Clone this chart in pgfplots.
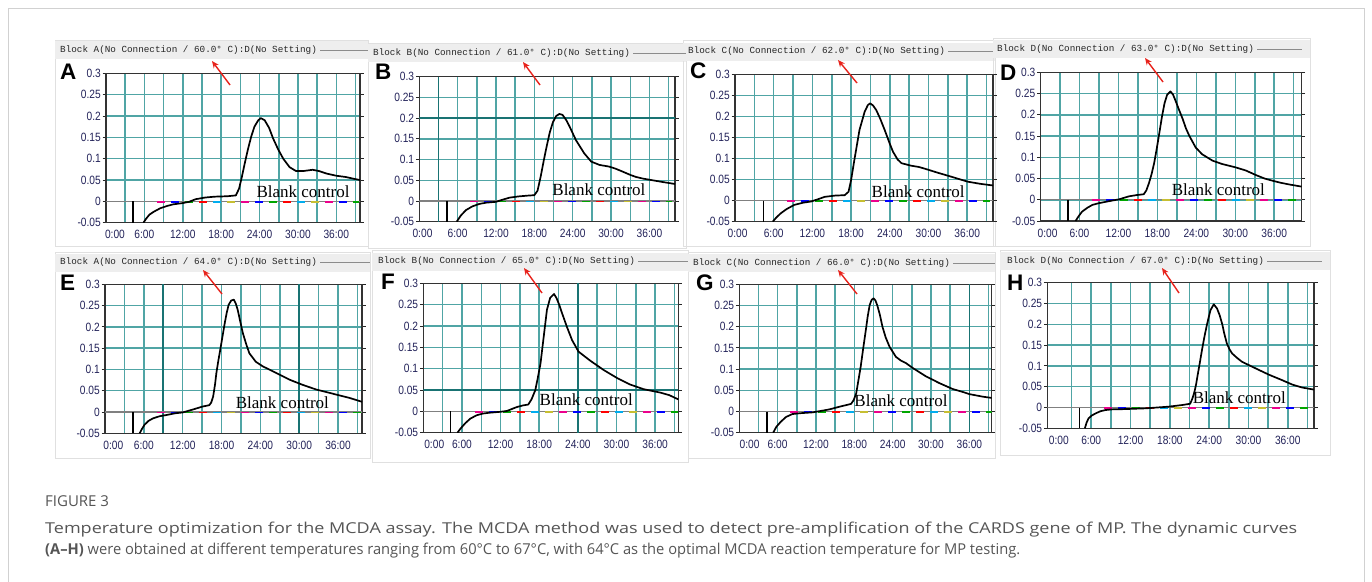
\documentclass[border=0pt]{standalone}
\usepackage{pgfplots}
\pgfplotsset{compat=1.18}
\usepackage{pgfplotstable}
\usepackage{graphicx}
\usetikzlibrary{arrows.meta}
\usepackage{fontspec}
\setmainfont{Liberation Serif}
\newfontfamily\tickfam{Liberation Sans}[FakeStretch=0.85]
\newfontfamily\monofam{Liberation Mono}
\newfontfamily\letterfam{Liberation Sans}
\newfontfamily\capfam{Open Sans}
\newcommand{\tickfont}{\tickfam\fontsize{12}{12}\selectfont}
\newcommand{\blankfont}{\rmfamily\fontsize{17}{17}\selectfont}
\newcommand{\titlefont}{\monofam\fontsize{9.3}{9.3}\selectfont}
\newcommand{\letterfont}{\letterfam\bfseries\fontsize{22.5}{22.5}\selectfont}
\definecolor{gridteal}{RGB}{80,165,165}
\definecolor{darkteal}{RGB}{25,115,115}
\definecolor{ticknavy}{RGB}{35,35,90}
\definecolor{zerogray}{RGB}{128,128,128}
\definecolor{bggray}{RGB}{238,238,238}
\definecolor{capgray}{RGB}{85,85,85}
\definecolor{arrowred}{RGB}{232,35,28}

\pgfplotsset{
  blk/.style={
    scale only axis,
    ymin=-0.05, ymax=0.3,
    xtick={#1,6,12,18,24,30,36},
    xticklabels={0:00,6:00,12:00,18:00,24:00,30:00,36:00},
    ytick={-0.05,0,0.05,0.1,0.15,0.2,0.25,0.3},
    yticklabels={-0.05,0,0.05,0.1,0.15,0.2,0.25,0.3},
    minor xtick={3,6,...,39},
    minor ytick={0,0.05,0.1,0.15,0.2,0.25},
    grid=minor,
    minor grid style={draw=gridteal, line width=1.5pt},
    minor tick length=0pt,
    xtick style={draw=none},
    ytick style={draw=black!85, line width=0.9pt},
    tick align=outside,
    major tick length=3.5pt,
    axis line style={draw=black!80, line width=1.3pt},
    ticklabel style={font=\tickfont, text=ticknavy},
    xticklabel style={inner sep=2pt, yshift=-2pt},
    yticklabel style={inner sep=1.5pt},
    clip mode=individual,
  },
  curve/.style={black, line width=1.7pt, line join=round},
}
\newcommand{\zerodashes}{%
  \addplot[magenta, line width=1.6pt, dash pattern=on 8pt off 76pt, dash phase=0pt] coordinates {(8,-0.001) (39.5,-0.001)};
  \addplot[yellow!75!black, line width=1.6pt, dash pattern=on 8pt off 76pt, dash phase=14pt] coordinates {(8,-0.001) (39.5,-0.001)};
  \addplot[cyan, line width=1.6pt, dash pattern=on 8pt off 76pt, dash phase=28pt] coordinates {(8,-0.001) (39.5,-0.001)};
  \addplot[red, line width=1.6pt, dash pattern=on 8pt off 76pt, dash phase=42pt] coordinates {(8,-0.001) (39.5,-0.001)};
  \addplot[green!65!black, line width=1.6pt, dash pattern=on 8pt off 76pt, dash phase=56pt] coordinates {(8,-0.001) (39.5,-0.001)};
  \addplot[blue, line width=1.6pt, dash pattern=on 8pt off 76pt, dash phase=70pt] coordinates {(8,-0.001) (39.5,-0.001)};
}

\pgfplotstableread{
x y
5.85 -0.05
6.3 -0.04
6.8 -0.031
7.5 -0.024
8.5 -0.016
9.5 -0.011
10.5 -0.007
12 -0.004
13 -0.001
14 0.005
15.5 0.009
17 0.011
19 0.012
20.3 0.014
20.8 0.03
21.2 0.055
21.7 0.09
22.2 0.123
22.7 0.152
23.2 0.175
23.8 0.19
24.2 0.195
24.8 0.19
25.5 0.172
26.1 0.148
26.9 0.122
27.7 0.1
28.7 0.08
29.7 0.071
30.8 0.071
32.3 0.074
33.3 0.071
34.5 0.065
36 0.06
37.5 0.057
38.7 0.053
39.7 0.05
}\tA
\pgfplotstableread{
x y
5.85 -0.05
6.5 -0.035
7.3 -0.022
8.3 -0.013
9.4 -0.007
10.5 -0.004
12 -0.002
13 0.003
14.1 0.008
15.5 0.011
17 0.013
18 0.014
18.5 0.025
19 0.06
19.5 0.1
19.9 0.13
20.4 0.165
20.9 0.19
21.4 0.205
21.9 0.21
22.4 0.208
23 0.195
23.5 0.18
24.5 0.147
25.8 0.115
26.9 0.095
28.2 0.087
29.7 0.083
30.7 0.078
31.8 0.071
33 0.063
33.9 0.058
35 0.054
36.5 0.05
38 0.046
40 0.041
}\tB
\pgfplotstableread{
x y
5.85 -0.05
6.4 -0.04
7.1 -0.03
8 -0.02
9.2 -0.01
10.5 -0.005
11.8 -0.002
12.8 0.003
13.9 0.009
15.5 0.012
17 0.013
17.6 0.021
18 0.049
18.5 0.096
19.3 0.168
20.1 0.211
20.6 0.227
20.95 0.231
21.4 0.226
21.9 0.215
22.5 0.195
23.2 0.168
24 0.135
24.5 0.116
25.2 0.098
25.8 0.089
27.3 0.083
28.5 0.08
29.4 0.076
31.5 0.066
33.5 0.057
35 0.05
36.1 0.045
38 0.04
40 0.036
}\tC
\pgfplotstableread{
x y
5.4 -0.05
5.9 -0.038
6.4 -0.028
7.2 -0.019
8 -0.012
9 -0.008
10 -0.005
11 -0.002
12.1 0.001
13.6 0.008
14.8 0.011
15.9 0.013
16.3 0.022
16.7 0.039
17.1 0.06
17.5 0.086
17.9 0.12
18.3 0.157
18.7 0.195
19.1 0.227
19.5 0.247
20 0.255
20.4 0.248
20.8 0.233
21.3 0.213
21.9 0.19
22.4 0.168
22.9 0.151
23.9 0.123
24.9 0.107
26.5 0.092
28 0.084
30.1 0.076
31.6 0.069
33.2 0.058
34.5 0.05
35.7 0.045
37 0.04
38.3 0.036
40.2 0.031
}\tD
\pgfplotstableread{
x y
5.35 -0.05
5.7 -0.04
6.1 -0.03
6.7 -0.021
7.4 -0.015
8.4 -0.01
9.5 -0.007
10.8 -0.003
12 -0.001
13.6 0.006
15.1 0.013
16.1 0.016
16.4 0.022
16.7 0.036
17 0.065
17.2 0.091
17.5 0.12
17.8 0.146
18.2 0.182
18.5 0.209
18.8 0.233
19.1 0.252
19.5 0.262
19.9 0.264
20.2 0.255
20.5 0.24
20.9 0.212
21.3 0.185
21.8 0.16
22.3 0.138
23.3 0.118
24.4 0.107
25.5 0.099
26.4 0.092
28.5 0.076
30.5 0.064
32.6 0.053
35.2 0.043
37.8 0.033
39.7 0.024
}\tE
\pgfplotstableread{
x y
5.3 -0.05
5.8 -0.04
6.5 -0.028
7.3 -0.017
8.3 -0.009
9.3 -0.005
10.4 -0.003
12 -0.001
13 0.001
14.5 0.01
15.5 0.014
16.3 0.016
16.8 0.028
17.4 0.05
17.8 0.08
18.2 0.112
18.7 0.175
19.2 0.238
19.7 0.266
20.3 0.275
20.7 0.265
21.1 0.25
21.5 0.232
22.3 0.198
23.1 0.167
24.1 0.14
25.9 0.119
28 0.097
30.1 0.078
32.1 0.063
34.2 0.052
36.8 0.044
38.2 0.038
39.6 0.028
}\tF
\pgfplotstableread{
x y
5.3 -0.05
5.8 -0.036
6.5 -0.024
7.3 -0.013
8.3 -0.006
9.5 -0.004
11.5 -0.002
13 0.002
14.1 0.005
15.6 0.011
17.5 0.018
17.9 0.027
18.3 0.043
18.6 0.07
19 0.106
19.4 0.15
19.8 0.192
20.1 0.225
20.4 0.251
20.7 0.263
21 0.267
21.3 0.262
21.6 0.25
22 0.228
22.4 0.2
22.9 0.175
23.5 0.153
24.5 0.129
25.3 0.12
26.1 0.114
27.1 0.103
29.2 0.083
31.3 0.067
33.4 0.053
35 0.046
36 0.041
38.1 0.035
39.5 0.032
}\tG
\pgfplotstableread{
x y
5.03 -0.05
5.3 -0.036
5.6 -0.026
6.1 -0.019
6.7 -0.014
7.4 -0.009
8.2 -0.006
9.5 -0.004
10.7 -0.004
14.3 -0.002
17.8 0.002
19.9 0.006
21.1 0.009
21.4 0.02
21.7 0.034
22 0.055
22.2 0.074
22.6 0.11
22.9 0.138
23.3 0.172
23.7 0.202
24.2 0.234
24.7 0.248
25.2 0.238
25.6 0.222
26 0.2
26.3 0.178
26.7 0.154
27.1 0.14
27.5 0.13
28.2 0.12
29 0.11
31.1 0.094
33.1 0.079
35.1 0.066
36.7 0.055
38.2 0.048
40 0.043
}\tH

\begin{document}
\begin{tikzpicture}[x=1pt,y=1pt]
\useasboundingbox (0,0) rectangle (1372,-581);
\fill[white] (0,0) rectangle (1372,-581);
\draw[black!18, line width=1pt] (8,-8) rectangle (1364,-600);

% screenshot frames and title strips
\foreach \xa/\ya/\xb/\yb/\ty in {55/40/368/246/50, 368/43/686/248/53, 683/40/995/246/51.5, 993/38/1310/246/49,
  55/252/370/458/262.5, 372/250/688/462/261.5, 688/252/995/458/263, 1000/250/1330/455/261}{
  \draw[black!12, line width=0.8pt] (\xa,-\ya) rectangle (\xb,-\yb);
  \fill[bggray] (\xa,-\ty+9) rectangle (\xb,-\ty-9);
}

% ---------- A ----------
\begin{axis}[blk={1.4}, at={(106pt,-222.7pt)}, anchor=south west, width=254pt, height=149.4pt, xmin=0, xmax=39.7]
\addplot[zerogray, line width=1.3pt] coordinates {(0,0) (39.7,0)};
\zerodashes
\addplot[black, line width=1.5pt] coordinates {(4.2,0) (4.2,-0.05)};
\addplot[curve] table {\tA};
\node[font=\blankfont, inner sep=0] at (axis cs:30.8,0.022) {Blank control};
\end{axis}

% ---------- B ----------
\begin{axis}[blk={0.5}, at={(419.3pt,-221.7pt)}, anchor=south west, width=255.7pt, height=145pt, xmin=0, xmax=40]
\addplot[darkteal, line width=1.6pt] coordinates {(3,-0.05) (3,0.3)};
\addplot[darkteal, line width=1.6pt] coordinates {(0,0.2) (40,0.2)};
\addplot[zerogray, line width=1.3pt] coordinates {(0,0) (40,0)};
\zerodashes
\addplot[black, line width=1.5pt] coordinates {(4.3,0) (4.3,-0.05)};
\addplot[curve] table {\tB};
\node[font=\blankfont, inner sep=0] at (axis cs:28.1,0.027) {Blank control};
\end{axis}

% ---------- C ----------
\begin{axis}[blk={0.4}, at={(735pt,-221.7pt)}, anchor=south west, width=258pt, height=147.4pt, xmin=0, xmax=40]
\addplot[zerogray, line width=1.3pt] coordinates {(0,0) (40,0)};
\zerodashes
\addplot[black, line width=1.5pt] coordinates {(4.4,0) (4.4,-0.05)};
\addplot[curve] table {\tC};
\node[font=\blankfont, inner sep=0] at (axis cs:28.4,0.022) {Blank control};
\end{axis}

% ---------- D ----------
\begin{axis}[blk={1.1}, at={(1040.5pt,-221pt)}, anchor=south west, width=261pt, height=148.7pt, xmin=0, xmax=40.2]
\addplot[zerogray, line width=1.3pt] coordinates {(0,0) (40.2,0)};
\zerodashes
\addplot[black, line width=1.5pt] coordinates {(4.2,0) (4.2,-0.05)};
\addplot[curve] table {\tD};
\node[font=\blankfont, inner sep=0] at (axis cs:27.4,0.024) {Blank control};
\end{axis}

% ---------- E ----------
\begin{axis}[blk={1.3}, at={(105pt,-433.3pt)}, anchor=south west, width=257pt, height=149pt, xmin=0, xmax=39.7]
\addplot[darkteal, line width=1.6pt] coordinates {(9,-0.05) (9,0.3)};
\addplot[darkteal, line width=1.6pt] coordinates {(30,-0.05) (30,0.3)};
\addplot[zerogray, line width=1.3pt] coordinates {(0,0) (39.7,0)};
\zerodashes
\addplot[black, line width=1.5pt] coordinates {(4.3,0) (4.3,-0.05)};
\addplot[curve] table {\tE};
\node[font=\blankfont, inner sep=0] at (axis cs:27.4,0.022) {Blank control};
\end{axis}

% ---------- F ----------
\begin{axis}[blk={1.7}, at={(423.3pt,-432.7pt)}, anchor=south west, width=255pt, height=149.4pt, xmin=0, xmax=39.6]
\addplot[darkteal, line width=1.6pt] coordinates {(24,-0.05) (24,0.3)};
\addplot[darkteal, line width=1.6pt] coordinates {(0,0.05) (39.6,0.05)};
\addplot[zerogray, line width=1.3pt] coordinates {(0,0) (39.6,0)};
\zerodashes
\addplot[black, line width=1.5pt] coordinates {(4.2,0) (4.2,-0.05)};
\addplot[curve] table {\tF};
\node[font=\blankfont, inner sep=0] at (axis cs:25.3,0.028) {Blank control};
\end{axis}

% ---------- G ----------
\begin{axis}[blk={1.6}, at={(739.3pt,-432.7pt)}, anchor=south west, width=252.4pt, height=148.4pt, xmin=0, xmax=39.5]
\addplot[darkteal, line width=1.6pt] coordinates {(36,-0.05) (36,0.3)};
\addplot[zerogray, line width=1.3pt] coordinates {(0,0) (39.5,0)};
\zerodashes
\addplot[black, line width=1.5pt] coordinates {(4.3,0) (4.3,-0.05)};
\addplot[curve] table {\tG};
\node[font=\blankfont, inner sep=0] at (axis cs:25.3,0.025) {Blank control};
\end{axis}

% ---------- H ----------
\begin{axis}[blk={1.07}, at={(1047.3pt,-428.3pt)}, anchor=south west, width=266.7pt, height=145.6pt, xmin=-0.7, xmax=40]
\addplot[zerogray, line width=1.3pt] coordinates {(-0.7,0) (40,0)};
\zerodashes
\addplot[black, line width=1.5pt] coordinates {(4.2,0) (4.2,-0.05)};
\addplot[curve] table {\tH};
\node[font=\blankfont, inner sep=0] at (axis cs:28.6,0.023) {Blank control};
\end{axis}

% block titles with trailing rule
\foreach \x/\y/\xe/\lab/\temp in {60/50/368/A/60.0, 373/53/686/B/61.0, 688/51.5/993/C/62.0, 997/49/1302/D/63.0,
  60/262.5/370/A/64.0, 378/261.5/688/B/65.0, 693/263/995/C/66.0, 1007/261/1322/D/67.0}{
  \node[anchor=west, inner sep=0, font=\titlefont, text=black!85] (tt) at (\x,-\y) {Block \lab(No Connection / \temp° C):D(No Setting)};
  \draw[black!45, line width=0.6pt] ([xshift=3pt]tt.east) -- (\xe,-\y);
}

% red arrows
\foreach \xa/\ya/\xb/\yb in {230/85/212/61, 540/85/523/62, 857/83/838/60, 1163/82/1145/58,
  222/294/203/270, 542/293/524/268, 857/294/838/270, 1179/293/1162/268}{
  \draw[arrowred, line width=1.4pt, -{Stealth[length=7pt,width=6pt]}] (\xa,-\ya) -- (\xb,-\yb);
}

% panel letters
\foreach \x/\y/\L in {60/79.5/A, 375/79.3/B, 690/78.3/C, 1000/80/D, 60/290.7/E, 381/289.3/F, 696/290.7/G, 1007/290.7/H}{
  \node[anchor=base west, inner sep=0, font=\letterfont] at (\x,-\y) {\L};
}

% caption
\node[anchor=base west, inner sep=0, text=capgray] at (45,-506) {\capfam\fontsize{15}{15}\selectfont FIGURE 3};
\node[anchor=base west, inner sep=0, text=capgray] at (45,-533) {\resizebox{1252pt}{\height}{\capfam\fontsize{15}{15}\selectfont Temperature optimization for the MCDA assay. The MCDA method was used to detect pre-amplification of the CARDS gene of MP. The dynamic curves}};
\node[anchor=base west, inner sep=0, text=capgray] at (45,-554) {\resizebox{975pt}{\height}{\capfam\fontsize{15}{15}\selectfont {\bfseries (A–H)} were obtained at different temperatures ranging from 60°C to 67°C, with 64°C as the optimal MCDA reaction temperature for MP testing.}};
\end{tikzpicture}
\end{document}
